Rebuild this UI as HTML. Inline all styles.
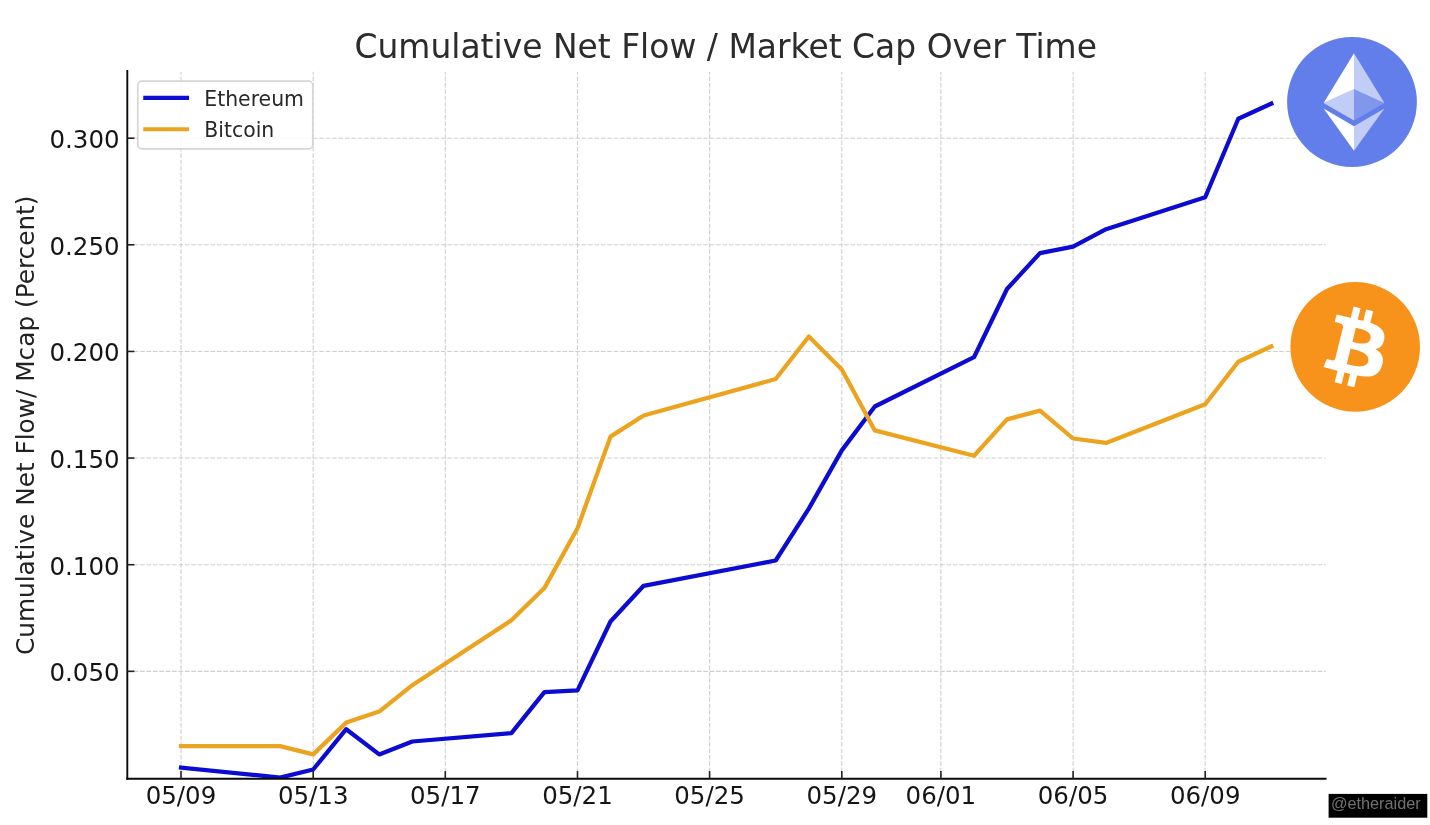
<!DOCTYPE html>
<html lang="en">
<head>
<meta charset="utf-8">
<title>Cumulative Net Flow / Market Cap Over Time</title>
<style>
html,body{margin:0;padding:0;background:#fff;}
body{width:1430px;height:825px;overflow:hidden;position:relative;font-family:"DejaVu Sans","Liberation Sans",sans-serif;}
svg{position:absolute;left:0;top:0;display:block;filter:blur(0.35px);}
svg text{font-family:"DejaVu Sans","Liberation Sans",sans-serif;}
.grid line{stroke:#cfcfcf;stroke-width:1.1;stroke-dasharray:4.6 1.8;}
.tick line{stroke:#222;stroke-width:1.6;}
.spine{stroke:#0a0a0a;stroke-width:1.9;stroke-linecap:square;}
.tl{font-size:24.5px;fill:#151515;}
.series{fill:none;stroke-width:4.25;stroke-linejoin:round;stroke-linecap:square;}
</style>
</head>
<body>
<svg width="1430" height="825" viewBox="0 0 1430 825">
<rect x="0" y="0" width="1430" height="825" fill="#ffffff"/>

<g class="grid">
<line x1="181.0" y1="778.7" x2="181.0" y2="71.8"/>
<line x1="313.2" y1="778.7" x2="313.2" y2="71.8"/>
<line x1="445.3" y1="778.7" x2="445.3" y2="71.8"/>
<line x1="577.5" y1="778.7" x2="577.5" y2="71.8"/>
<line x1="709.6" y1="778.7" x2="709.6" y2="71.8"/>
<line x1="841.8" y1="778.7" x2="841.8" y2="71.8"/>
<line x1="940.9" y1="778.7" x2="940.9" y2="71.8"/>
<line x1="1073.1" y1="778.7" x2="1073.1" y2="71.8"/>
<line x1="1205.2" y1="778.7" x2="1205.2" y2="71.8"/>
<line x1="127.3" y1="671.33" x2="1325.6" y2="671.33"/>
<line x1="127.3" y1="564.7" x2="1325.6" y2="564.7"/>
<line x1="127.3" y1="458.07" x2="1325.6" y2="458.07"/>
<line x1="127.3" y1="351.44" x2="1325.6" y2="351.44"/>
<line x1="127.3" y1="244.81" x2="1325.6" y2="244.81"/>
<line x1="127.3" y1="138.18" x2="1325.6" y2="138.18"/>
</g>
<clipPath id="axclip"><rect x="127.3" y="71.0" width="1198.3" height="707.7"/></clipPath>
<g clip-path="url(#axclip)"><polyline class="series" stroke="#0b0bd2" points="181.0,767.5 280.1,777.6 313.2,769.5 346.2,729.2 379.2,754.4 412.3,741.5 511.4,733.1 544.4,692.2 577.5,690.3 610.5,621.5 643.6,585.8 775.7,560.5 808.8,508.6 841.8,450.4 874.8,406.5 974.0,357.2 1007.0,289.0 1040.0,253.1 1073.1,246.7 1106.1,229.2 1205.2,197.3 1238.3,118.7 1271.3,103.6"/>
<polyline class="series" stroke="#eca31f" points="181.0,746.1 280.1,746.1 313.2,754.4 346.2,722.6 379.2,711.6 412.3,685.2 511.4,620.3 544.4,588.1 577.5,528.3 610.5,436.6 643.6,415.5 775.7,379.0 808.8,336.5 841.8,369.6 874.8,430.4 974.0,455.7 1007.0,419.4 1040.0,410.6 1073.1,438.5 1106.1,442.9 1205.2,404.3 1238.3,361.8 1271.3,346.4"/></g>
<line class="spine" x1="127.3" y1="71.0" x2="127.3" y2="778.7"/>
<line class="spine" x1="127.3" y1="778.7" x2="1325.6" y2="778.7"/>
<g class="tick">
<line x1="181.0" y1="778.7" x2="181.0" y2="771.1"/>
<line x1="313.2" y1="778.7" x2="313.2" y2="771.1"/>
<line x1="445.3" y1="778.7" x2="445.3" y2="771.1"/>
<line x1="577.5" y1="778.7" x2="577.5" y2="771.1"/>
<line x1="709.6" y1="778.7" x2="709.6" y2="771.1"/>
<line x1="841.8" y1="778.7" x2="841.8" y2="771.1"/>
<line x1="940.9" y1="778.7" x2="940.9" y2="771.1"/>
<line x1="1073.1" y1="778.7" x2="1073.1" y2="771.1"/>
<line x1="1205.2" y1="778.7" x2="1205.2" y2="771.1"/>
<line x1="127.3" y1="671.33" x2="134.4" y2="671.33"/>
<line x1="127.3" y1="564.7" x2="134.4" y2="564.7"/>
<line x1="127.3" y1="458.07" x2="134.4" y2="458.07"/>
<line x1="127.3" y1="351.44" x2="134.4" y2="351.44"/>
<line x1="127.3" y1="244.81" x2="134.4" y2="244.81"/>
<line x1="127.3" y1="138.18" x2="134.4" y2="138.18"/>
</g>
<text class="tl" x="181.0" y="804.3" text-anchor="middle">05/09</text>
<text class="tl" x="313.2" y="804.3" text-anchor="middle">05/13</text>
<text class="tl" x="445.3" y="804.3" text-anchor="middle">05/17</text>
<text class="tl" x="577.5" y="804.3" text-anchor="middle">05/21</text>
<text class="tl" x="709.6" y="804.3" text-anchor="middle">05/25</text>
<text class="tl" x="841.8" y="804.3" text-anchor="middle">05/29</text>
<text class="tl" x="940.9" y="804.3" text-anchor="middle">06/01</text>
<text class="tl" x="1073.1" y="804.3" text-anchor="middle">06/05</text>
<text class="tl" x="1205.2" y="804.3" text-anchor="middle">06/09</text>
<text class="tl" x="119.6" y="681.3" text-anchor="end">0.050</text>
<text class="tl" x="119.6" y="574.7" text-anchor="end">0.100</text>
<text class="tl" x="119.6" y="468.1" text-anchor="end">0.150</text>
<text class="tl" x="119.6" y="361.4" text-anchor="end">0.200</text>
<text class="tl" x="119.6" y="254.8" text-anchor="end">0.250</text>
<text class="tl" x="119.6" y="148.2" text-anchor="end">0.300</text>
<text transform="translate(33.6,425.3) rotate(-90)" text-anchor="middle" font-size="24.78" fill="#222">Cumulative Net Flow/ Mcap (Percent)</text>
<text x="725.7" y="58.1" text-anchor="middle" font-size="32.95" fill="#2c2c2c">Cumulative Net Flow / Market Cap Over Time</text>
<g>
<rect x="137.75" y="81.2" width="175.0" height="67.6" rx="4.1" ry="4.1" fill="#ffffff" fill-opacity="0.86" stroke="#d6d6d6" stroke-width="1.7"/>
<line x1="145.3" y1="97.9" x2="187" y2="97.9" stroke="#0b0bd2" stroke-width="4.1" stroke-linecap="square"/>
<line x1="145.3" y1="129.2" x2="187" y2="129.2" stroke="#eca31f" stroke-width="4.1" stroke-linecap="square"/>
<text x="204.3" y="105.7" font-size="20.42" fill="#282828">Ethereum</text>
<text x="204.3" y="136.8" font-size="20.42" fill="#282828">Bitcoin</text>
</g>
<g transform="translate(1287.1,37.1) scale(4.056)">
<circle cx="16" cy="16" r="16" fill="#627EEA"/>
<g fill="#FFF">
<path fill-opacity=".602" d="M16.498 4v8.87l7.497 3.35z"/>
<path d="M16.498 4L9 16.22l7.498-3.35z"/>
<path fill-opacity=".602" d="M16.498 21.968v6.027L24 17.616z"/>
<path d="M16.498 27.995v-6.028L9 17.616z"/>
<path fill-opacity=".2" d="M16.498 20.573l7.497-4.353-7.497-3.348z"/>
<path fill-opacity=".602" d="M9 16.22l7.498 4.353v-7.701z"/>
</g></g>
<g transform="translate(1290.4,282.1) scale(4.05)">
<circle cx="16" cy="16" r="16" fill="#F7931A"/>
<path fill="#FFF" d="M23.189 14.02c.314-2.096-1.283-3.223-3.465-3.975l.708-2.84-1.728-.43-.69 2.765c-.454-.114-.92-.22-1.385-.326l.695-2.783L15.596 6l-.708 2.839c-.376-.086-.746-.17-1.104-.26l.002-.009-2.384-.595-.46 1.846s1.283.294 1.256.312c.7.175.826.638.805 1.006l-.806 3.235c.048.012.11.03.18.057l-.183-.045-1.13 4.532c-.086.212-.303.531-.793.41.018.025-1.256-.313-1.256-.313l-.858 1.978 2.25.561c.418.105.828.215 1.231.318l-.715 2.872 1.727.43.708-2.84c.472.127.93.245 1.378.357l-.706 2.828 1.728.43.715-2.866c2.948.558 5.164.333 6.097-2.333.752-2.146-.037-3.385-1.588-4.192 1.13-.26 1.98-1.003 2.207-2.538zm-3.95 5.538c-.533 2.147-4.148.986-5.32.695l.95-3.805c1.172.293 4.929.872 4.37 3.11zm.535-5.569c-.487 1.953-3.495.96-4.47.717l.86-3.45c.975.243 4.118.696 3.61 2.733z"/>
</g>
<rect x="1328.6" y="793.9" width="98.7" height="23.8" fill="#000"/>
<text x="1331.0" y="808.8" font-size="16.25" fill="#717171" style="font-family:'Liberation Sans',sans-serif">@etheraider</text>
</svg>
</body>
</html>
